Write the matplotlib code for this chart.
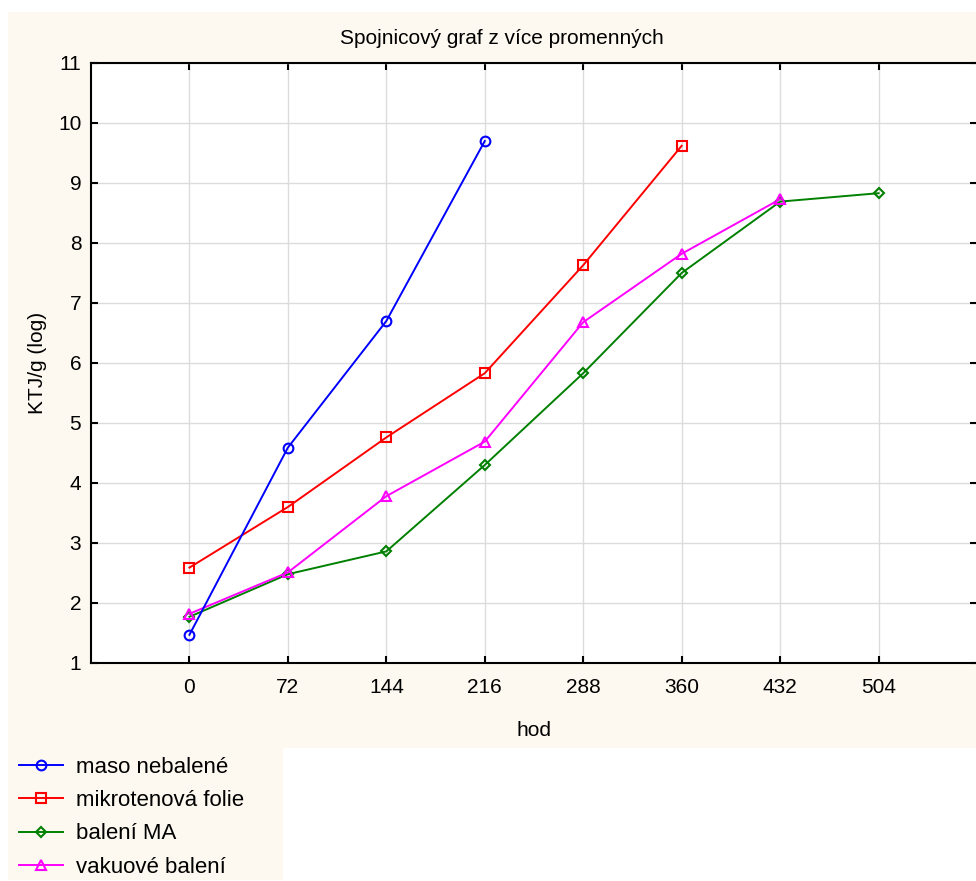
import matplotlib
matplotlib.use('Agg')
import matplotlib.pyplot as plt
from matplotlib.patches import Rectangle

# Storage time (hours) and log counts (KTJ/g)
hours = [0, 72, 144, 216, 288, 360, 432, 504]
maso_nebalene = [1.47, 4.59, 6.70, 9.70]
mikrotenova_folie = [2.59, 3.60, 4.76, 5.83, 7.63, 9.62]
baleni_ma = [1.77, 2.48, 2.86, 4.30, 5.83, 7.50, 8.69, 8.83]
vakuove_baleni = [1.82, 2.51, 3.78, 4.69, 6.68, 7.82, 8.73]
y_ticks = list(range(1, 12))

series = [
    ("maso nebalené", maso_nebalene, "#0000ff", "o", 5),
    ("mikrotenová folie", mikrotenova_folie, "#ff0000", "s", 4),
    ("balení MA", baleni_ma, "#008000", "D", 2),
    ("vakuové balení", vakuove_baleni, "#ff00ff", "^", 3),
]

plt.rcParams['font.family'] = ['Liberation Sans', 'DejaVu Sans']

W, H = 976, 881
fig = plt.figure(figsize=(W / 100, H / 100), dpi=100)
fig.patch.set_facecolor('white')
cream = '#fdf9f0'


def px_rect(x0, y0, x1, y1):
    return Rectangle((x0 / W, 1 - y1 / H), (x1 - x0) / W, (y1 - y0) / H,
                     transform=fig.transFigure, facecolor=cream,
                     edgecolor='none', zorder=-10)


fig.patches.append(px_rect(8, 12, 976, 748))
fig.patches.append(px_rect(8, 748, 283, 880))

ax = fig.add_axes([91 / W, 1 - 663 / H, (977 - 91) / W, 600 / H])
ax.set_facecolor('white')

handles = []
for label, vals, color, marker, z in series:
    ms = 7 if marker != "D" else 5.5
    line, = ax.plot(hours[:len(vals)], vals, color=color, lw=1.4,
                    marker=marker, markersize=ms, markerfacecolor='none',
                    markeredgecolor=color, markeredgewidth=1.5, zorder=z,
                    label=label)
    handles.append(line)

ax.set_xlim(-72, 576)
ax.set_ylim(1, 11)
ax.set_xticks(hours)
ax.set_yticks(y_ticks)
ax.grid(True, color='#dcdcdc', lw=1, zorder=0)
ax.set_axisbelow(True)

for side in ['left', 'top', 'bottom', 'right']:
    ax.spines[side].set_linewidth(1.5)
    ax.spines[side].set_color('black')

ax.tick_params(axis='x', direction='in', length=5, width=1.5, top=True,
               labelsize=15, pad=11)
ax.tick_params(axis='y', direction='in', length=5, width=1.5, right=True,
               labelsize=15, pad=7)

ax.set_title('Spojnicový graf z více promenných', fontsize=15, pad=14,
             x=(502 - 91) / (977 - 91))
ax.set_xlabel('hod', fontsize=15, labelpad=17)
ax.set_ylabel('KTJ/g (log)', fontsize=15, labelpad=8)

fig.legend(handles=handles, loc='upper left',
           bbox_to_anchor=(19 / W, 1 - 757 / H), frameon=False,
           fontsize=16, handlelength=2.0, handletextpad=0.55,
           labelspacing=0.55, borderaxespad=0, borderpad=0)

fig.savefig('out.png', dpi=100, facecolor=fig.get_facecolor())
